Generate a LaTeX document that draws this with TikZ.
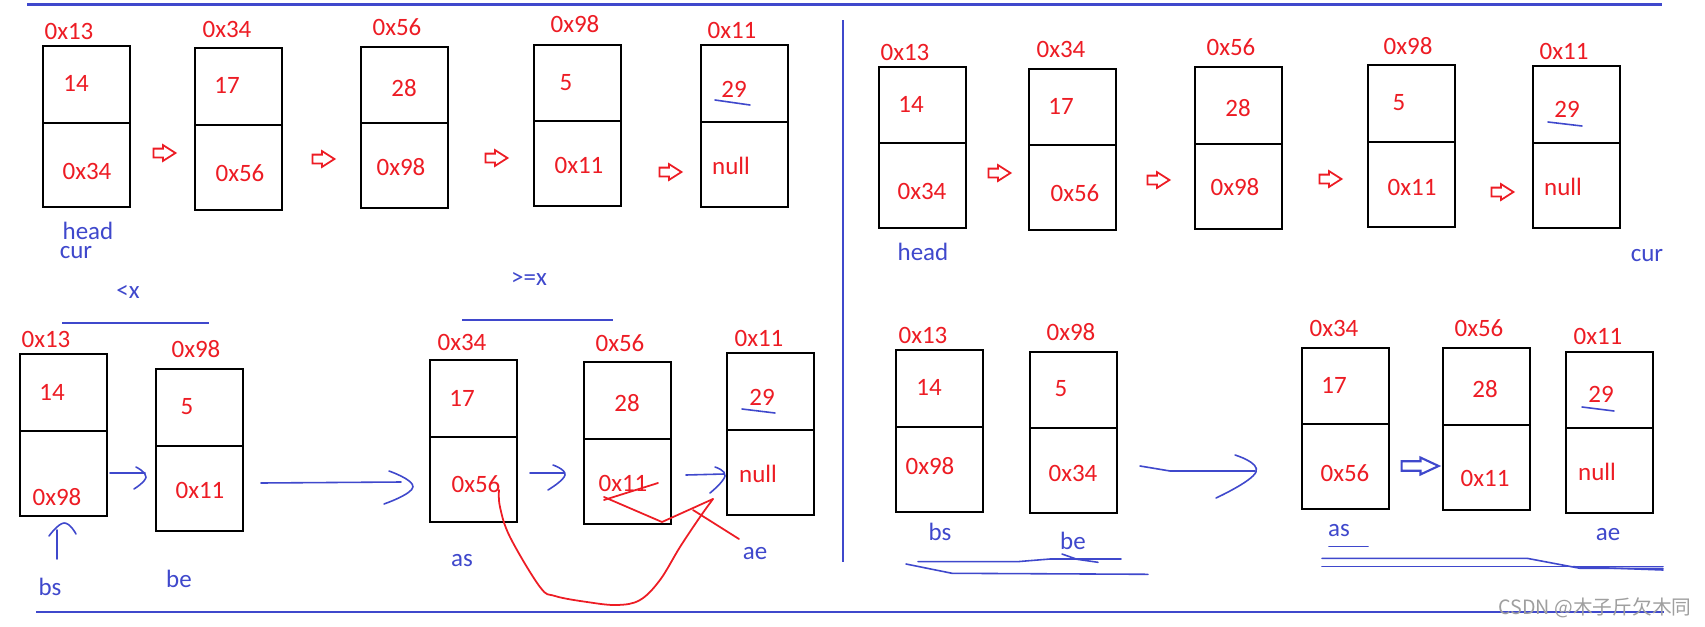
\documentclass[tikz,border=0pt]{standalone}
\usepackage{fontspec}
\setmainfont{Carlito}
\newfontfamily\cjk{Noto Sans CJK SC}
\usetikzlibrary{shapes.arrows,fit}
\definecolor{pred}{RGB}{237,28,36}
\definecolor{pblue}{RGB}{63,72,204}
\tikzset{
  boxst/.style={draw=black,line width=0.6pt,inner sep=0pt},
  rt/.style={text=pred,font=\fontsize{7.1pt}{8pt}\selectfont,inner sep=0pt},
  bt/.style={text=pblue,font=\fontsize{7.1pt}{8pt}\selectfont,inner sep=0pt},
  redarr/.style={single arrow,draw=pred,line width=0.5pt,inner sep=0.035cm,single arrow head extend=0.035cm,single arrow tip angle=65,minimum height=0.22cm},
  bluearr/.style={single arrow,draw=pblue,line width=0.6pt,inner sep=0.037cm,single arrow head extend=0.037cm,single arrow tip angle=50,minimum height=0.37cm},
  hand/.style={draw=pblue,line width=0.45pt,line cap=round,line join=round},
  redhand/.style={draw=pred,line width=0.5pt,line cap=round,line join=round},
  sepline/.style={draw=pblue,line width=0.6pt},
}
\newcommand\lbox[5]{%
  \coordinate (#1-nw) at (#2,#3);
  \coordinate (#1-se) at (#2+87,#5);
  \node[boxst,fit=(#1-nw)(#1-se)] (#1) {};
  \coordinate (#1-dl) at (#2,#4);
  \coordinate (#1-dr) at (#2+87,#4);
  \draw[line width=0.6pt] (#1-dl) -- (#1-dr);
}
\begin{document}
\begin{tikzpicture}[x=0.01cm,y=-0.01cm]
\path[use as bounding box,fill=white] (0,0) rectangle (1705,627);
% separators
\coordinate (topL) at (27,4.5); \coordinate (topR) at (1662,4.5);
\draw[sepline] (topL) -- (topR);
\coordinate (midT) at (843,20); \coordinate (midB) at (843,562);
\draw[sepline] (midT) -- (midB);
\coordinate (botL) at (36,612); \coordinate (botR) at (1664,612);
\draw[sepline] (botL) -- (botR);

% ===== top left =====
\lbox{a1}{43}{46}{123}{207}
\lbox{a2}{195}{48}{125}{210}
\lbox{a3}{361}{47}{123}{208}
\lbox{a4}{534}{45}{121}{206}
\lbox{a5}{701}{45}{122}{207}
\node[rt] (a1a) at (69,31) {0x13};
\node[rt] (a1v) at (76,83) {14};
\node[rt] (a1n) at (87,171) {0x34};
\node[rt] (a2a) at (227,29) {0x34};
\node[rt] (a2v) at (227,85) {17};
\node[rt] (a2n) at (240,173) {0x56};
\node[rt] (a3a) at (397,27) {0x56};
\node[rt] (a3v) at (404,88) {28};
\node[rt] (a3n) at (401,167) {0x98};
\node[rt] (a4a) at (575,24) {0x98};
\node[rt] (a4v) at (566,83) {5};
\node[rt] (a4n) at (579,165) {0x11};
\node[rt] (a5a) at (732,30) {0x11};
\node[rt] (a5v) at (734,89) {29};
\node[rt] (a5n) at (731,166) {null};
\draw[hand] (715,100) -- (750,105);
\node[redarr] (ta1) at (161,153) {};
\node[redarr] (ta2) at (320,159) {};
\node[redarr] (ta3) at (493,158) {};
\node[redarr] (ta4) at (667,172) {};
\node[bt] (ahead) at (88,231) {head};
\node[bt] (acur) at (76,253) {cur};
\node[bt] (lt) at (128,292) {<x};
\node[bt] (ge) at (529,279) {>=x};

% ===== top right =====
\lbox{b1}{879}{67}{143}{228}
\lbox{b2}{1029}{69}{145}{230}
\lbox{b3}{1195}{67}{144}{229}
\lbox{b4}{1368}{65}{142}{227}
\lbox{b5}{1533}{66}{143}{228}
\node[rt] (b1a) at (905,52) {0x13};
\node[rt] (b1v) at (911,104) {14};
\node[rt] (b1n) at (922,191) {0x34};
\node[rt] (b2a) at (1061,49) {0x34};
\node[rt] (b2v) at (1061,106) {17};
\node[rt] (b2n) at (1075,193) {0x56};
\node[rt] (b3a) at (1231,47) {0x56};
\node[rt] (b3v) at (1238,108) {28};
\node[rt] (b3n) at (1235,187) {0x98};
\node[rt] (b4a) at (1408,46) {0x98};
\node[rt] (b4v) at (1399,103) {5};
\node[rt] (b4n) at (1412,187) {0x11};
\node[rt] (b5a) at (1564,51) {0x11};
\node[rt] (b5v) at (1567,109) {29};
\node[rt] (b5n) at (1563,187) {null};
\draw[hand] (1548,122) -- (1582,126);
\node[redarr] (tb1) at (996,173) {};
\node[redarr] (tb2) at (1155,180) {};
\node[redarr] (tb3) at (1327,179) {};
\node[redarr] (tb4) at (1499,192) {};
\node[bt] (bhead) at (923,252) {head};
\node[bt] (bcur) at (1647,256) {cur};

% ===== bottom left =====
\coordinate (ltL) at (62,323); \coordinate (ltR) at (209,323);
\draw[sepline] (ltL) -- (ltR);
\coordinate (geL) at (462,320); \coordinate (geR) at (613,320);
\draw[sepline] (geL) -- (geR);
\lbox{c1}{20}{354}{431}{516}
\lbox{c2}{156}{369}{446}{531}
\lbox{c3}{430}{360}{437}{522}
\lbox{c4}{584}{362}{439}{524}
\lbox{c5}{727}{353}{430}{515}
\node[rt] (c1a) at (46,339) {0x13};
\node[rt] (c1v) at (52,392) {14};
\node[rt] (c1n) at (57,497) {0x98};
\node[rt] (c2a) at (196,349) {0x98};
\node[rt] (c2v) at (187,407) {5};
\node[rt] (c2n) at (200,490) {0x11};
\node[rt] (c3a) at (462,342) {0x34};
\node[rt] (c3v) at (462,398) {17};
\node[rt] (c3n) at (476,484) {0x56};
\node[rt] (c4a) at (620,343) {0x56};
\node[rt] (c4v) at (627,403) {28};
\node[rt] (c4n) at (623,483) {0x11};
\node[rt] (c5a) at (759,338) {0x11};
\node[rt] (c5v) at (762,397) {29};
\node[rt] (c5n) at (758,474) {null};
\draw[hand] (742,409) -- (775,413);
\node[bt] (cbs) at (50,587) {bs};
\node[bt] (cbe) at (179,579) {be};
\node[bt] (cas) at (462,561) {as};
\node[bt] (cae) at (755,554) {ae};
% hand arrows
\coordinate (h1s) at (110,473); \coordinate (h1e) at (145,473);
\draw[hand] (h1s) -- (h1e);
\draw[hand] plot[smooth,tension=0.8] coordinates {(136,467) (146,477) (134,489)};
\coordinate (h2s) at (261,483); \coordinate (h2e) at (401,482);
\draw[hand] (h2s) -- (h2e);
\draw[hand] plot[smooth,tension=0.8] coordinates {(389,471) (413,487) (384,504)};
\coordinate (h3s) at (530,473); \coordinate (h3e) at (564,473);
\draw[hand] (h3s) -- (h3e);
\draw[hand] plot[smooth,tension=0.8] coordinates {(553,465) (565,475) (548,490)};
\coordinate (h4s) at (686,475); \coordinate (h4e) at (724,474);
\draw[hand] (h4s) -- (h4e);
\draw[hand] plot[smooth,tension=0.8] coordinates {(715,467) (725,476) (710,493)};
\coordinate (ups) at (57,559); \coordinate (upe) at (57,530);
\draw[hand] (ups) -- (upe);
\draw[hand] plot[smooth,tension=0.8] coordinates {(49,536) (64,523) (76,534)};
% red marks
\coordinate (rc0) at (499,490); \coordinate (rc1) at (713,499);
\draw[redhand] plot[smooth,tension=0.6] coordinates {(rc0) (500,507) (510,537) (540,587) (555,596) (587,602) (617,605) (640,600) (660,580) (680,547) (700,517) (rc1)};
\draw[redhand] (604,497) -- (662,522) -- (rc1);
\draw[redhand] (604,500) -- (658,483);
\draw[redhand] (693,510) -- (739,539);

% ===== bottom right =====
\lbox{d1}{896}{350}{427}{512}
\lbox{d2}{1030}{352}{428}{513}
\lbox{d3}{1302}{348}{424}{509}
\lbox{d4}{1443}{348}{425}{510}
\lbox{d5}{1566}{352}{428}{513}
\node[rt] (d1a) at (923,335) {0x13};
\node[rt] (d1v) at (929,387) {14};
\node[rt] (d1n) at (930,466) {0x98};
\node[rt] (d2a) at (1071,332) {0x98};
\node[rt] (d2v) at (1061,389) {5};
\node[rt] (d2n) at (1073,473) {0x34};
\node[rt] (d3a) at (1334,328) {0x34};
\node[rt] (d3v) at (1334,385) {17};
\node[rt] (d3n) at (1345,473) {0x56};
\node[rt] (d4a) at (1479,328) {0x56};
\node[rt] (d4v) at (1485,389) {28};
\node[rt] (d4n) at (1485,478) {0x11};
\node[rt] (d5a) at (1598,336) {0x11};
\node[rt] (d5v) at (1601,394) {29};
\node[rt] (d5n) at (1597,472) {null};
\draw[hand] (1582,407) -- (1614,411);
\node[bt] (dbs) at (940,532) {bs};
\node[bt] (dbe) at (1073,541) {be};
\node[bt] (das) at (1339,531) {as};
\node[bt] (dae) at (1608,535) {ae};
\node[bluearr] (tbl) at (1415,466) {};
\coordinate (bgs) at (1140,466); \coordinate (bge) at (1255,471);
\draw[hand] (bgs) -- (1170,471) -- (bge);
\draw[hand] plot[smooth,tension=0.8] coordinates {(1235,455) (1256,472) (1216,498)};
% underlines
\draw[hand] (918,561.7) -- (1017,561.7) -- (1050,559) -- (1121,559);
\draw[hand] (1062,554) -- (1077,559.3) -- (1098,562.3);
\draw[hand] (906,564) -- (952,573.3) -- (1148,574.3);
\draw[hand] (1329,546.7) -- (1368,546.7);
\draw[hand] (1322,558.3) -- (1527,558.3) -- (1580,568.3) -- (1663,568.3);
\draw[hand] (1322,566.7) -- (1663,566.7);
\draw[hand] (1573,566.7) -- (1663,570);

% watermark
\node[text=gray!75,font=\cjk\fontsize{5.6pt}{6pt}\selectfont,inner sep=0pt] (wm) at (1595,608) {CSDN @木子斤欠木同};
\end{tikzpicture}
\end{document}
